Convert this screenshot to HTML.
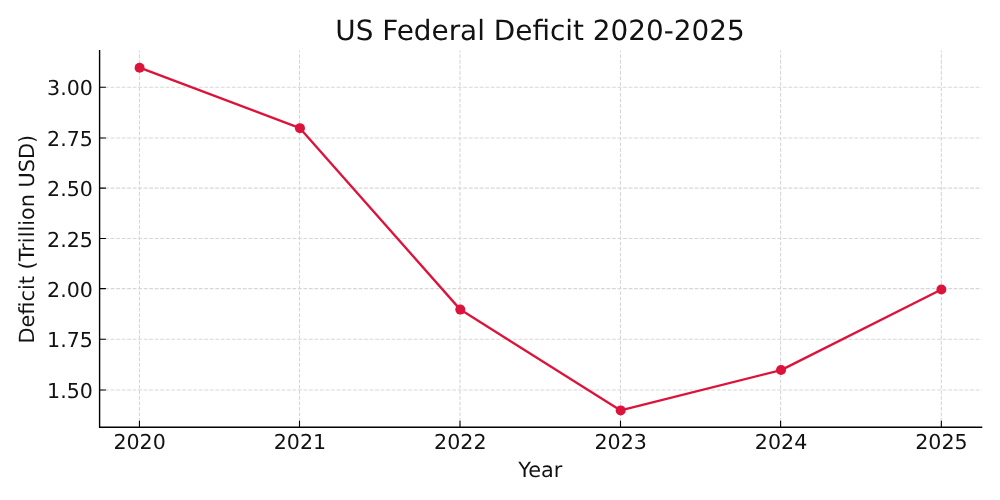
<!DOCTYPE html>
<html lang="en"><head><meta charset="utf-8"><title>US Federal Deficit 2020-2025</title>
<style>html,body{margin:0;padding:0;background:#fff;overflow:hidden}svg text{white-space:pre}</style></head>
<body>
<svg width="1000" height="500" viewBox="0 0 1000 500" style="display:block;font-family:'DejaVu Sans','Liberation Sans',sans-serif;text-rendering:geometricPrecision">
<rect width="1000" height="500" fill="#fff"/>
<path d="M139.45 427.30V50.60M299.50 427.30V50.60M460.00 427.30V50.60M620.50 427.30V50.60M780.60 427.30V50.60M941.35 427.30V50.60M99.60 389.95H981.60M99.60 339.20H981.60M99.60 288.60H981.60M99.60 238.50H981.60M99.60 188.10H981.60M99.60 138.00H981.60M99.60 87.30H981.60" fill="none" stroke="#b0b0b0" stroke-opacity="0.5" stroke-width="1.1" stroke-dasharray="3.8 1.71"/>
<path d="M139.45 427.30v-6.5M299.50 427.30v-6.5M460.00 427.30v-6.5M620.50 427.30v-6.5M780.60 427.30v-6.5M941.35 427.30v-6.5M99.60 389.95h6.3M99.60 339.20h6.3M99.60 288.60h6.3M99.60 238.50h6.3M99.60 188.10h6.3M99.60 138.00h6.3M99.60 87.30h6.3" fill="none" stroke="#000" stroke-width="1.1"/>
<polyline points="139.60,67.68 299.96,128.16 460.32,309.60 620.68,410.40 781.04,370.08 941.40,289.44" fill="none" stroke="#dc143c" stroke-width="2.35" stroke-linejoin="round" stroke-linecap="butt"/>
<circle cx="139.60" cy="67.68" r="5.0" fill="#dc143c"/>
<circle cx="299.96" cy="128.16" r="5.0" fill="#dc143c"/>
<circle cx="460.32" cy="309.60" r="5.0" fill="#dc143c"/>
<circle cx="620.68" cy="410.40" r="5.0" fill="#dc143c"/>
<circle cx="781.04" cy="370.08" r="5.0" fill="#dc143c"/>
<circle cx="941.40" cy="289.44" r="5.0" fill="#dc143c"/>
<path d="M99.60 50.60V427.30H981.60" fill="none" stroke="#000" stroke-width="1.4" stroke-linecap="square" stroke-linejoin="miter"/>
<g fill="#121212" font-size="20.6px" text-anchor="middle">
<text x="139.60" y="449">2020</text>
<text x="299.96" y="449">2021</text>
<text x="460.32" y="449">2022</text>
<text x="620.68" y="449">2023</text>
<text x="781.04" y="449">2024</text>
<text x="941.40" y="449">2025</text>
</g>
<g fill="#121212" font-size="20.6px" text-anchor="end">
<text x="92.9" y="398">1.50</text>
<text x="92.9" y="347">1.75</text>
<text x="92.9" y="297">2.00</text>
<text x="92.9" y="247">2.25</text>
<text x="92.9" y="196">2.50</text>
<text x="92.9" y="146">2.75</text>
<text x="92.9" y="95">3.00</text>
</g>
<text transform="translate(540.25 477)" fill="#121212" font-size="20.83px" text-anchor="middle">Year</text>
<text transform="translate(34 239.15) rotate(-90)" fill="#121212" font-size="20.83px" text-anchor="middle">Deficit (Trillion USD)</text>
<text x="539.95" y="40" fill="#121212" font-size="27.87px" text-anchor="middle">US Federal Deficit 2020-2025</text>
</svg>
</body></html>
